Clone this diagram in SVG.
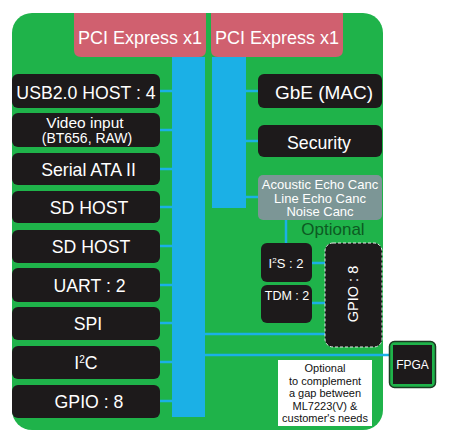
<svg xmlns="http://www.w3.org/2000/svg" width="450" height="442" viewBox="0 0 450 442">
<style>
.blk{fill:#1d1a1b}
.t{font-family:"Liberation Sans",Arial,sans-serif;fill:#fff;text-anchor:middle}
.m{font-size:17.7px}
.bus{fill:#1bb0e6}
.ln{stroke:#1bb0e6;stroke-width:2.5;fill:none}
</style>
<rect width="450" height="442" fill="#fff"/>
<rect id="board" x="12" y="13" width="371" height="417" rx="20" fill="#1fb34a"/>
<g id="pcie1"><path d="M74 13H206V50Q206 57 199 57H81Q74 57 74 50Z" fill="#d0606f"/><text class="t" x="140" y="44" font-size="18">PCI Express x1</text></g>
<g id="pcie2"><path d="M211 13H343V50Q343 57 336 57H218Q211 57 211 50Z" fill="#d0606f"/><text class="t" x="277" y="44" font-size="18">PCI Express x1</text></g>
<g id="connectors">
<rect class="bus" x="172" y="57" width="33" height="360"/>
<rect class="bus" x="212" y="57" width="34" height="151"/>
<path class="ln" d="M160 91H172M160 130H172M160 169H172M160 207H172M160 246H172M160 285H172M160 323H172M160 362H172M160 401H172"/>
<path class="ln" d="M246 91H258M246 141H258M246 197H258M286 220V243M312 263H325M312 303H325M205 334H325M205 355H390"/>
</g>
<g id="usb"><rect class="blk" x="12" y="74" width="148" height="34" rx="6"/><text class="t m" x="86" y="99">USB2.0 HOST : 4</text></g>
<g id="video"><rect class="blk" x="12" y="113" width="148" height="34" rx="6"/><text class="t" x="85" y="128" font-size="15.5">Video input</text><text class="t" x="87" y="143" font-size="14">(BT656, RAW)</text></g>
<g id="sata"><rect class="blk" x="12" y="153" width="148" height="32" rx="6"/><text class="t m" x="88.5" y="176">Serial ATA II</text></g>
<g id="sd1"><rect class="blk" x="12" y="191" width="148" height="32" rx="6"/><text class="t m" x="89" y="214">SD HOST</text></g>
<g id="sd2"><rect class="blk" x="12" y="230" width="148" height="33" rx="6"/><text class="t m" x="91" y="253">SD HOST</text></g>
<g id="uart"><rect class="blk" x="12" y="268" width="148" height="34" rx="6"/><text class="t m" x="89.5" y="292">UART : 2</text></g>
<g id="spi"><rect class="blk" x="12" y="307" width="148" height="33" rx="6"/><text class="t m" x="88" y="330">SPI</text></g>
<g id="i2c"><rect class="blk" x="12" y="346" width="148" height="33" rx="6"/><text class="t m" x="86" y="369">I<tspan font-size="10" dy="-6">2</tspan><tspan dy="6">C</tspan></text></g>
<g id="gpio"><rect class="blk" x="12" y="385" width="148" height="33" rx="6"/><text class="t m" x="89" y="408">GPIO : 8</text></g>
<g id="gbe"><rect class="blk" x="258" y="74" width="124" height="34" rx="6"/><text class="t" x="324" y="99" font-size="19">GbE (MAC)</text></g>
<g id="security"><rect class="blk" x="258" y="125" width="124" height="32" rx="6"/><text class="t m" x="319" y="149">Security</text></g>
<g id="echo"><rect x="258" y="175" width="124" height="45" rx="5" fill="#7c9696"/><text class="t" x="320" y="189" font-size="13">Acoustic Echo Canc</text><text class="t" x="320" y="202.5" font-size="13">Line Echo Canc</text><text class="t" x="320" y="216" font-size="13">Noise Canc</text></g>
<text x="333" y="235" font-family="Liberation Sans,Arial,sans-serif" font-size="17" fill="#0d5a22" text-anchor="middle">Optional</text>
<g id="i2s"><rect class="blk" x="261" y="243" width="51" height="39" rx="6"/><text class="t" x="286" y="268" font-size="13">I<tspan font-size="8" dy="-5">2</tspan><tspan dy="5">S : 2</tspan></text></g>
<g id="tdm"><rect class="blk" x="261" y="285" width="51" height="38" rx="6"/><text class="t" x="287" y="300" font-size="12.5">TDM : 2</text></g>
<g id="gpio8"><rect class="blk" x="325" y="243" width="57" height="104" rx="8" stroke="#e8e8e8" stroke-width="1" stroke-dasharray="3,2"/><text class="t" transform="translate(358 294) rotate(-90)" font-size="14.5">GPIO : 8</text></g>
<g id="fpga"><rect x="389.5" y="341.5" width="46" height="46" rx="5" fill="#1fb34a" stroke="#1a3a22" stroke-width="1.5"/><rect class="blk" x="393" y="345" width="39" height="39"/><text class="t" x="412.5" y="369" font-size="12">FPGA</text></g>
<g id="note"><rect x="278" y="360" width="94" height="66" fill="#fff"/><g font-family="Liberation Sans,Arial,sans-serif" font-size="11" fill="#111" text-anchor="middle"><text x="325" y="372">Optional</text><text x="325" y="384.5">to complement</text><text x="325" y="397">a gap between</text><text x="325" y="409.5">ML7223(V) &amp;</text><text x="325" y="422">customer's needs</text></g></g>
</svg>
